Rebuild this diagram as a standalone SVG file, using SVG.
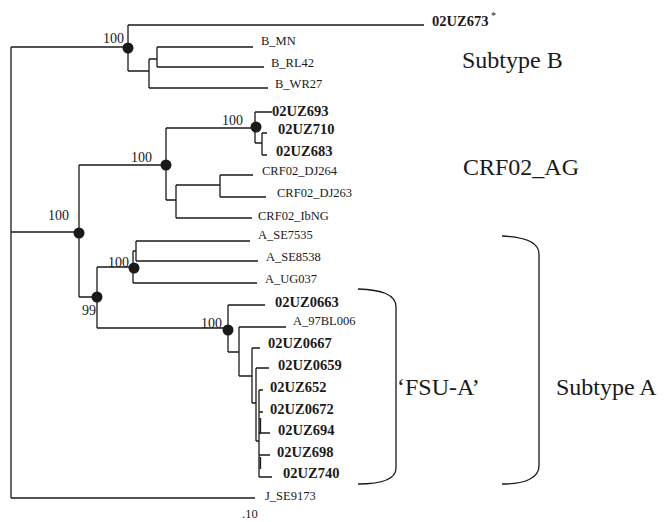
<svg xmlns="http://www.w3.org/2000/svg" width="664" height="522" viewBox="0 0 664 522">
<style>
text{font-family:"Liberation Serif","Times New Roman",serif;fill:#1a1a1a}
.lf{font-size:12.5px}
.lb{font-size:14.5px;font-weight:bold}
.bs{font-size:14px}
.grp{font-size:24px}
.ln{fill:none;stroke:#1a1a1a;stroke-width:1.3}
.dot{fill:#1a1a1a}
</style>
<rect width="664" height="522" fill="#fff"/>
<g id="connectors" class="ln">
<path d="M11,47V498M11,47H128M11,232H79M11,498H255"/>
<path d="M128,25V71M128,25H424M128,71H149M149,59V88M149,59H157M157,47V67M157,47H253M157,67H264M149,88H268"/>
<path d="M79,165V297M79,165H166M79,297H97"/>
<path d="M166,128V200M166,128H255M166,200H176M176,185V218M176,185H220M220,175V197M220,175H253M220,197H266M176,218H252"/>
<path d="M255,112V143M255,112H272M255,143H262M262,133V155M262,133H267M262,155H267"/>
<path d="M97,267V328M97,267H133M97,328H228"/>
<path d="M133,251V283M133,251H136M136,241V261M136,241H250M136,261H258M133,283H257"/>
<path d="M228,305V352M228,305H265M228,352H239M239,327V376M239,327H286M239,376H252M252,348V403M252,348H260M252,403H256M256,368V441M256,368H269M256,441H259M259,390V477M259,390H263M259,412H263M259,433H270M259,455H270M259,477H272M260.5,418V434M260.5,457V469"/>
<path d="M358,289C381,290 396,294 396,307V468C396,479 381,484 358,484"/>
<path d="M502,236C525,237 539,242 539,254V466C539,478 525,484 502,484"/>
</g>
<g id="n-root-b"><circle class="dot" cx="128" cy="48" r="5.5"/><text class="bs" x="103" y="43">100</text></g>
<g id="n-crf"><circle class="dot" cx="166" cy="165" r="5.5"/><text class="bs" x="131" y="162">100</text></g>
<g id="n-crf-uz"><circle class="dot" cx="256" cy="127" r="5.5"/><text class="bs" x="222" y="125">100</text></g>
<g id="n-a-crf"><circle class="dot" cx="79" cy="233" r="5.5"/><text class="bs" x="48" y="220">100</text></g>
<g id="n-a-ref"><circle class="dot" cx="134" cy="268" r="5.5"/><text class="bs" x="108" y="267">100</text></g>
<g id="n-a"><circle class="dot" cx="97" cy="297" r="5.5"/><text class="bs" x="82" y="315">99</text></g>
<g id="n-fsu"><circle class="dot" cx="228" cy="330" r="5.5"/><text class="bs" x="201" y="328">100</text></g>
<g id="l-02UZ673"><text class="lb" x="432" y="26">02UZ673</text><text x="491" y="19" style="font-size:10px">*</text></g>
<g id="l-B_MN"><text class="lf" x="261" y="45">B_MN</text></g>
<g id="l-B_RL42"><text class="lf" x="271" y="67">B_RL42</text></g>
<g id="l-B_WR27"><text class="lf" x="275" y="88">B_WR27</text></g>
<g id="l-02UZ693"><text class="lb" x="272" y="116">02UZ693</text></g>
<g id="l-02UZ710"><text class="lb" x="278" y="134">02UZ710</text></g>
<g id="l-02UZ683"><text class="lb" x="276" y="156">02UZ683</text></g>
<g id="l-CRF02_DJ264"><text class="lf" x="262" y="175">CRF02_DJ264</text></g>
<g id="l-CRF02_DJ263"><text class="lf" x="277" y="197">CRF02_DJ263</text></g>
<g id="l-CRF02_IbNG"><text class="lf" x="258" y="220">CRF02_IbNG</text></g>
<g id="l-A_SE7535"><text class="lf" x="258" y="239">A_SE7535</text></g>
<g id="l-A_SE8538"><text class="lf" x="266" y="261">A_SE8538</text></g>
<g id="l-A_UG037"><text class="lf" x="265" y="283">A_UG037</text></g>
<g id="l-02UZ0663"><text class="lb" x="275" y="307">02UZ0663</text></g>
<g id="l-A_97BL006"><text class="lf" x="293" y="325">A_97BL006</text></g>
<g id="l-02UZ0667"><text class="lb" x="268" y="348">02UZ0667</text></g>
<g id="l-02UZ0659"><text class="lb" x="278" y="370">02UZ0659</text></g>
<g id="l-02UZ652"><text class="lb" x="270" y="392">02UZ652</text></g>
<g id="l-02UZ0672"><text class="lb" x="270" y="414">02UZ0672</text></g>
<g id="l-02UZ694"><text class="lb" x="278" y="435">02UZ694</text></g>
<g id="l-02UZ698"><text class="lb" x="277" y="457">02UZ698</text></g>
<g id="l-02UZ740"><text class="lb" x="283" y="478">02UZ740</text></g>
<g id="l-J_SE9173"><text class="lf" x="265" y="500">J_SE9173</text></g>
<g id="scale"><text class="lf" x="242" y="518">.10</text></g>
<g id="g-subB"><text class="grp" x="462" y="68">Subtype B</text></g>
<g id="g-crf"><text class="grp" x="463" y="175">CRF02_AG</text></g>
<g id="g-fsu"><text class="grp" x="397" y="395">‘FSU-A’</text></g>
<g id="g-subA"><text class="grp" x="556" y="395">Subtype A</text></g>
</svg>
